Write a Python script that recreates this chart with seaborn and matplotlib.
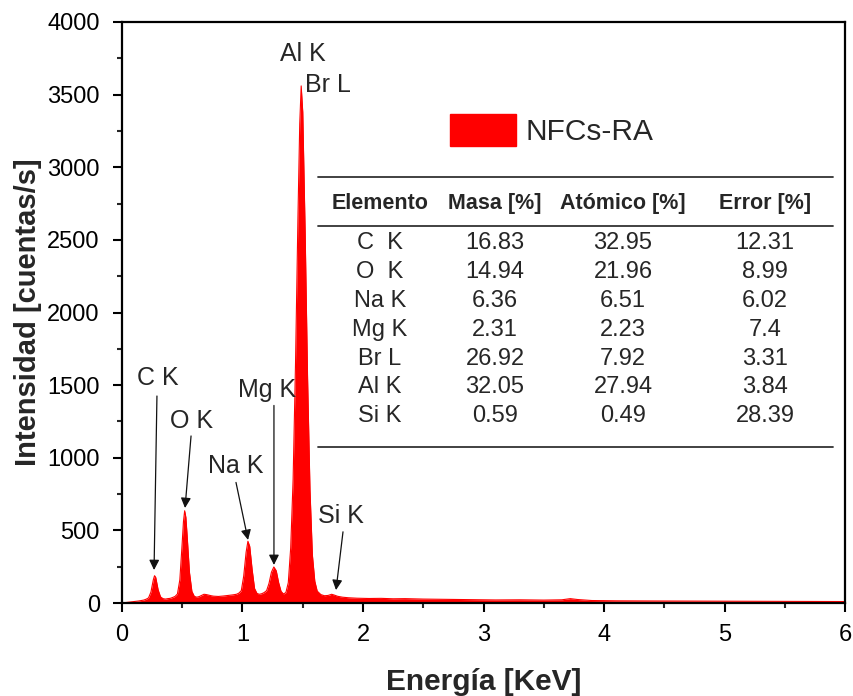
import numpy as np
import pandas as pd
import matplotlib
matplotlib.use("Agg")
import matplotlib.pyplot as plt
import seaborn as sns
from matplotlib.ticker import MultipleLocator
from matplotlib.patches import Patch

# ---------------- data ----------------
energy = [0.00, 0.02, 0.04, 0.06, 0.08, 0.10, 0.12, 0.14, 0.16, 0.18, 0.20,
          0.22, 0.24, 0.26, 0.27, 0.28, 0.30, 0.32, 0.34, 0.36, 0.38, 0.40,
          0.42, 0.44, 0.46, 0.48, 0.50, 0.51, 0.52, 0.53, 0.54, 0.56, 0.58,
          0.60, 0.62, 0.64, 0.66, 0.68, 0.70, 0.72, 0.74, 0.76, 0.80, 0.84,
          0.88, 0.92, 0.95, 0.97, 0.99, 1.01, 1.03, 1.045, 1.06, 1.08, 1.10,
          1.12, 1.14, 1.16, 1.18, 1.20, 1.22, 1.24, 1.26, 1.28, 1.30, 1.32,
          1.34, 1.36, 1.38, 1.40, 1.42, 1.44, 1.46, 1.475, 1.487, 1.50, 1.52,
          1.54, 1.56, 1.58, 1.60, 1.62, 1.65, 1.68, 1.71, 1.74, 1.76, 1.79,
          1.83, 1.88, 1.95, 2.05, 2.15, 2.25, 2.35, 2.50, 2.70, 2.90, 3.10,
          3.30, 3.50, 3.65, 3.72, 3.78, 3.90, 4.10, 4.40, 4.80, 5.20, 5.60,
          6.00]
counts = [0, 2, 4, 6, 8, 10, 12, 14, 17, 20, 26,
          35, 75, 160, 188, 176, 90, 42, 30, 27, 30, 32,
          38, 45, 62, 160, 420, 560, 635, 590, 470, 210, 80,
          46, 40, 44, 52, 60, 58, 54, 50, 47, 45, 48,
          52, 56, 60, 68, 85, 185, 350, 425, 390, 230, 100,
          66, 60, 64, 72, 85, 135, 212, 248, 222, 140, 80,
          62, 72, 140, 380, 850, 1650, 2650, 3300, 3560, 3380, 2550,
          1550, 780, 330, 150, 82, 58, 50, 52, 60, 55, 46,
          40, 36, 33, 31, 32, 29, 30, 27, 25, 23, 21,
          22, 20, 22, 30, 24, 17, 15, 14, 13, 12, 11,
          10]

peak_labels = ["C K", "O K", "Na K", "Mg K", "Si K"]
peak_energy = [0.266, 0.523, 1.046, 1.261, 1.776]
peak_height = [227, 654, 434, 262, 89]

table_cols = ["Elemento", "Masa [%]", "Atómico [%]", "Error [%]"]
elements = ["C  K", "O  K", "Na K", "Mg K", "Br L", "Al K", "Si K"]
masa = ["16.83", "14.94", "6.36", "2.31", "26.92", "32.05", "0.59"]
atomico = ["32.95", "21.96", "6.51", "2.23", "7.92", "27.94", "0.49"]
error = ["12.31", "8.99", "6.02", "7.4", "3.31", "3.84", "28.39"]

series_name = "NFCs-RA"

# ---------------- style ----------------
sns.set_style("ticks")
plt.rcParams["font.family"] = ["Liberation Sans", "DejaVu Sans"]

W, H = 854, 696
fig = plt.figure(figsize=(W / 100, H / 100), dpi=100)
ax = fig.add_axes([122 / W, 1 - 603 / H, (845 - 122) / W, (603 - 22) / H])

df = pd.DataFrame({"E": energy, "I": counts})
sns.lineplot(data=df, x="E", y="I", color="#ff0000", lw=0.8, ax=ax)
ax.fill_between(df["E"], 0, df["I"], color="#ff0000", lw=0)

ax.set_xlim(0, 6)
ax.set_ylim(0, 4000)
ax.xaxis.set_major_locator(MultipleLocator(1))
ax.xaxis.set_minor_locator(MultipleLocator(0.5))
ax.yaxis.set_major_locator(MultipleLocator(500))
ax.yaxis.set_minor_locator(MultipleLocator(250))
ax.tick_params(which="major", direction="out", length=6.5, width=1.5,
               labelsize=17, colors="black", top=False, right=False)
ax.tick_params(axis="y", which="major", pad=9.5)
ax.tick_params(axis="x", which="major", pad=8.5)
ax.tick_params(which="minor", direction="out", length=3.5, width=1.5,
               top=False, right=False)
for s in ax.spines.values():
    s.set_visible(True)
    s.set_linewidth(1.6)
    s.set_color("black")

ax.set_xlabel("Energía [KeV]", fontsize=21.5, fontweight="bold", labelpad=16)
ax.set_ylabel("Intensidad [cuentas/s]", fontsize=21, fontweight="bold", labelpad=4)

# annotations
text_pos = [(0.30, 1549), (0.58, 1253), (0.946, 943), (1.203, 1466), (1.817, 599)]
start_pos = [(0.29, 1425), (0.573, 1150), (0.946, 830), (1.261, 1360), (1.834, 490)]
for lab, e, h, tp, sp in zip(peak_labels, peak_energy, peak_height, text_pos, start_pos):
    ax.text(tp[0], tp[1], lab, ha="center", va="center", fontsize=18)
    ax.annotate("", xy=(e, h), xytext=sp,
                arrowprops=dict(arrowstyle="-|>", color="#111111", lw=0.9,
                                mutation_scale=15, shrinkA=0, shrinkB=0))
ax.text(1.502, 3780, "Al K", ha="center", va="center", fontsize=18)
ax.text(1.71, 3565, "Br L", ha="center", va="center", fontsize=18)

# legend
leg = ax.legend(handles=[Patch(facecolor="#ff0000", edgecolor="#ff0000", label=series_name)],
                loc="center left",
                bbox_to_anchor=((450 - 122) / 723, 1 - (130 - 22) / 581),
                frameon=False, fontsize=21.5, handlelength=2.2, handleheight=1.3,
                handletextpad=0.33, borderpad=0, borderaxespad=0)

# table (figure pixel coordinates)
def fx(px):
    return px / W

def fy(py):
    return 1 - py / H

for yl in (177, 226, 447):
    fig.add_artist(plt.Line2D([fx(318), fx(833)], [fy(yl), fy(yl)],
                              color="#333333", lw=1.3))
col_x = [380, 495, 623, 765]
for cx, name in zip(col_x, table_cols):
    fig.text(fx(cx), fy(203), name, ha="center", va="center",
             fontsize=15.5, fontweight="bold")
row_y = [243, 272, 301, 330, 359, 387, 416]
for i, ry in enumerate(row_y):
    for cx, vals in zip(col_x, (elements, masa, atomico, error)):
        fig.text(fx(cx), fy(ry), vals[i], ha="center", va="center", fontsize=17)

fig.savefig("out.png", dpi=100)
